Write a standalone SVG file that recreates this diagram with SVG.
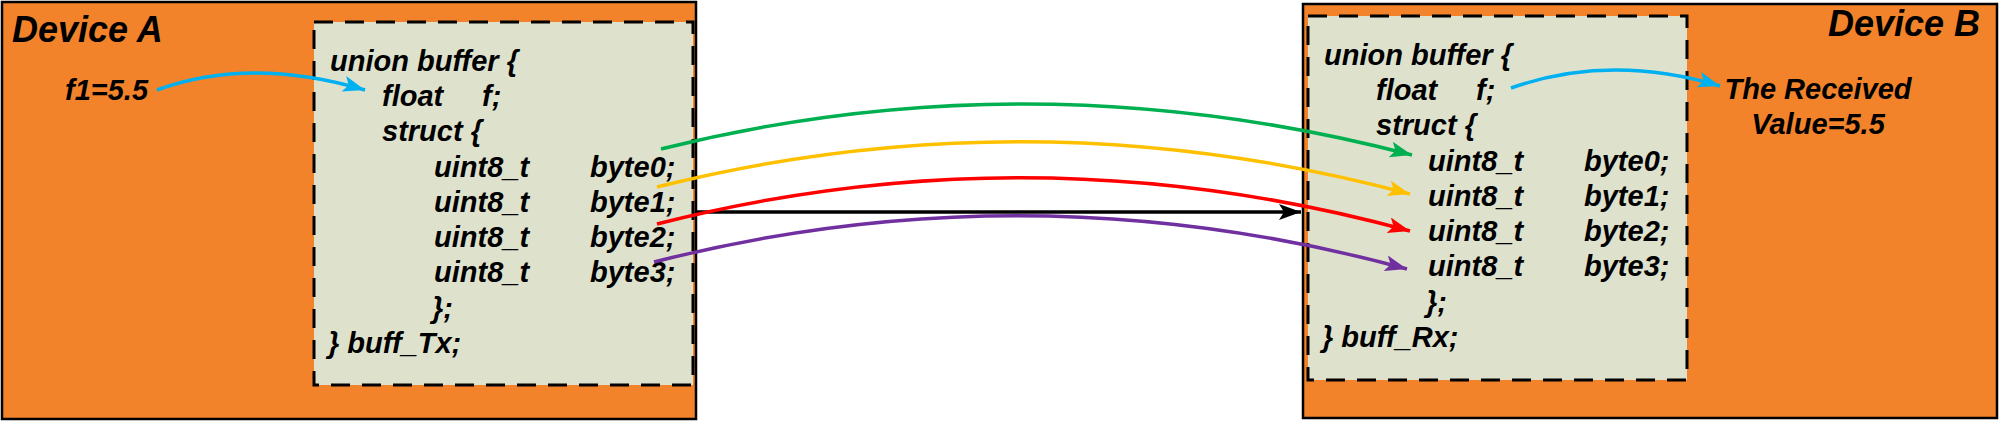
<svg xmlns="http://www.w3.org/2000/svg" width="1999" height="422" viewBox="0 0 1999 422">
<style>
.dev{fill:#F2832A;stroke:#000;stroke-width:2.5}
.buf{fill:#DEE2CD;stroke:#000;stroke-width:3;stroke-dasharray:19 12}
text{font-family:"Liberation Sans",Arial,sans-serif;font-weight:bold;font-style:italic;fill:#000}
.code{font-size:29px}
.title{font-size:36px}
.c{fill:none;stroke-width:3.5}
</style>
<defs>
<marker id="mCyan" markerUnits="userSpaceOnUse" markerWidth="24" markerHeight="18" refX="22" refY="8" orient="auto"><path d="M0,0 L22,8 L0,16 L5,8 Z" fill="#00B0F0"/></marker>
<marker id="mGreen" markerUnits="userSpaceOnUse" markerWidth="24" markerHeight="18" refX="22" refY="8" orient="auto"><path d="M0,0 L22,8 L0,16 L5,8 Z" fill="#00B050"/></marker>
<marker id="mYellow" markerUnits="userSpaceOnUse" markerWidth="24" markerHeight="18" refX="22" refY="8" orient="auto"><path d="M0,0 L22,8 L0,16 L5,8 Z" fill="#FFC000"/></marker>
<marker id="mRed" markerUnits="userSpaceOnUse" markerWidth="24" markerHeight="18" refX="22" refY="8" orient="auto"><path d="M0,0 L22,8 L0,16 L5,8 Z" fill="#FF0000"/></marker>
<marker id="mPurple" markerUnits="userSpaceOnUse" markerWidth="24" markerHeight="18" refX="22" refY="8" orient="auto"><path d="M0,0 L22,8 L0,16 L5,8 Z" fill="#7030A0"/></marker>
<marker id="mBlack" markerUnits="userSpaceOnUse" markerWidth="24" markerHeight="18" refX="22" refY="8" orient="auto"><path d="M0,0 L22,8 L0,16 L5,8 Z" fill="#000"/></marker>
</defs>
<rect width="1999" height="422" fill="#fff"/>

<g id="deviceA">
<rect class="dev" x="2" y="2" width="694" height="417"/>
<text class="title" x="12" y="42">Device A</text>
<text class="code" x="65" y="100">f1=5.5</text>
</g>

<g id="bufferA">
<rect class="buf" x="314" y="22" width="379" height="363"/>
<g class="code">
<text class="code" x="330" y="71">union buffer {</text>
<text class="code" y="106"><tspan x="382">float</tspan><tspan x="482">f;</tspan></text>
<text class="code" x="382" y="141">struct {</text>
<text class="code" y="177"><tspan x="434">uint8_t</tspan><tspan x="590">byte0;</tspan></text>
<text class="code" y="212"><tspan x="434">uint8_t</tspan><tspan x="590">byte1;</tspan></text>
<text class="code" y="247"><tspan x="434">uint8_t</tspan><tspan x="590">byte2;</tspan></text>
<text class="code" y="282"><tspan x="434">uint8_t</tspan><tspan x="590">byte3;</tspan></text>
<text class="code" x="432" y="318">};</text>
<text class="code" x="328" y="353">} buff_Tx;</text>
</g>
</g>

<g id="deviceB">
<rect class="dev" x="1303" y="4" width="694" height="414"/>
<text class="title" x="1980" y="36" text-anchor="end">Device B</text>
<text class="code" x="1818" y="99" text-anchor="middle">The Received</text>
<text class="code" x="1818" y="134" text-anchor="middle">Value=5.5</text>
</g>

<g id="bufferB">
<rect class="buf" x="1308" y="16" width="379" height="364"/>
<text class="code" x="1324" y="65">union buffer {</text>
<text class="code" y="100"><tspan x="1376">float</tspan><tspan x="1476">f;</tspan></text>
<text class="code" x="1376" y="135">struct {</text>
<text class="code" y="171"><tspan x="1428">uint8_t</tspan><tspan x="1584">byte0;</tspan></text>
<text class="code" y="206"><tspan x="1428">uint8_t</tspan><tspan x="1584">byte1;</tspan></text>
<text class="code" y="241"><tspan x="1428">uint8_t</tspan><tspan x="1584">byte2;</tspan></text>
<text class="code" y="276"><tspan x="1428">uint8_t</tspan><tspan x="1584">byte3;</tspan></text>
<text class="code" x="1426" y="312">};</text>
<text class="code" x="1322" y="347">} buff_Rx;</text>
</g>

<g id="connectors">
<path class="c" d="M157,90 Q250,56 365,90" stroke="#00B0F0" marker-end="url(#mCyan)"/>
<path class="c" d="M1511,88 Q1610,53 1720,86" stroke="#00B0F0" marker-end="url(#mCyan)"/>
<path class="c" d="M695,212 L1301,212" stroke="#000" stroke-width="3" marker-end="url(#mBlack)"/>
<path class="c" d="M661,149 Q1033,56 1412,155" stroke="#00B050" marker-end="url(#mGreen)"/>
<path class="c" d="M657,187 Q1033,93 1410,194" stroke="#FFC000" marker-end="url(#mYellow)"/>
<path class="c" d="M657,224 Q1033,128 1410,231" stroke="#FF0000" marker-end="url(#mRed)"/>
<path class="c" d="M654,262 Q1030,166 1407,269" stroke="#7030A0" marker-end="url(#mPurple)"/>
</g>
</svg>
